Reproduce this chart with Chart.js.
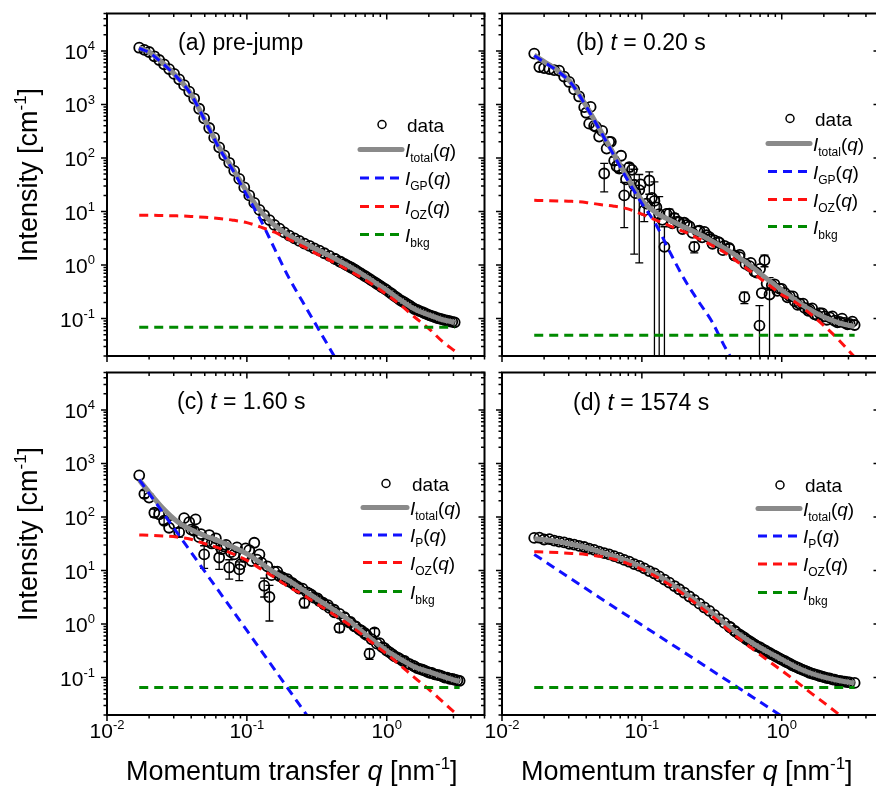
<!DOCTYPE html>
<html lang="en">
<head>
<meta charset="UTF-8" />
<title>SAXS intensity fits</title>
<script src="https://cdn.jsdelivr.net/npm/chart.js"></script>
<style>
  html, body { margin: 0; padding: 0; background: #fff; overflow: hidden; }
  body { width: 876px; height: 788px; position: relative; }
  canvas { position: absolute; left: 0; top: 0; }
</style>
</head>
<body>
<canvas id="panelA" width="900" height="788"></canvas>
<canvas id="panelB" width="900" height="788"></canvas>
<canvas id="panelC" width="900" height="788"></canvas>
<canvas id="panelD" width="900" height="788"></canvas>
<script>
// ---- measured q grid (nm^-1) ----
const qData = [0.0170, 0.0185, 0.0200, 0.0218, 0.0236, 0.0256, 0.0278, 0.0302, 0.0328, 0.0356,
  0.0387, 0.0420, 0.0456, 0.0495, 0.0538, 0.0584, 0.0634, 0.0689, 0.0748, 0.0812,
  0.0882, 0.0958, 0.104, 0.113, 0.123, 0.133, 0.145, 0.157, 0.171, 0.185,
  0.201, 0.219, 0.237, 0.258, 0.280, 0.304, 0.330, 0.358, 0.389, 0.423,
  0.459, 0.498, 0.541, 0.588, 0.638, 0.693, 0.753, 0.818, 0.888, 0.964,
  1.05, 1.14, 1.24, 1.34, 1.46, 1.58, 1.72, 1.87, 2.03, 2.20,
  2.39, 2.60, 2.82, 3.06, 3.32];
// extra high-q points (the detector grid is densest there)
const qDense = [0.43, 0.47, 0.52, 0.56, 0.61, 0.66, 0.72, 0.78, 0.85, 0.92,
  1.0, 1.09, 1.19, 1.29, 1.40, 1.52, 1.65, 1.80, 1.95, 2.11,
  2.30, 2.50, 2.71, 2.94];
// extra scattered points of the noisy frames
const qExtra = [0.040, 0.043, 0.047, 0.052, 0.056, 0.060, 0.066, 0.071, 0.077, 0.085,
  0.090, 0.098, 0.108, 0.118, 0.127, 0.14, 0.15, 0.165, 0.18, 0.195,
  0.21, 0.23, 0.25, 0.27, 0.29, 0.32, 0.35, 0.38, 0.42, 0.46,
  0.50, 0.55, 0.60, 0.66, 0.70, 0.72, 0.78, 0.85, 0.93, 1.0,
  1.1, 1.2, 1.3, 1.42, 1.55, 1.65, 1.8, 1.95, 2.1, 2.3,
  2.5, 2.7, 2.95, 3.2];
// q grid of the fitted curves
const qFit = [0.017, 0.020, 0.0251, 0.0316, 0.0398, 0.0501, 0.0631, 0.0794, 0.1, 0.126,
  0.158, 0.2, 0.251, 0.316, 0.398, 0.501, 0.631, 0.794, 1.0, 1.26,
  1.58, 2.0, 2.51, 3.06, 3.32];
const qBkgA = [0.017, 3.06];
const qBkg = [0.017, 3.32];
const qPowC = [0.017, 0.05, 0.1, 0.28];
const qPowD = [0.017, 0.05, 0.1, 0.3, 1.0];

// ---- (a) pre-jump ----
const intA = [11480, 10470, 9550, 7940, 6760, 5620, 4570, 3720, 2950, 2290,
  1740, 1290, 832, 550, 363, 240, 158, 112, 81.3, 57.5,
  40.7, 28.2, 20.0, 14.5, 10.7, 8.51, 6.92, 5.62, 4.79, 4.07,
  3.55, 3.16, 2.82, 2.51, 2.29, 2.04, 1.86, 1.66, 1.48, 1.32,
  1.17, 1.05, 0.933, 0.832, 0.724, 0.631, 0.550, 0.479, 0.417, 0.363,
  0.309, 0.263, 0.224, 0.200, 0.174, 0.151, 0.138, 0.126, 0.115, 0.107,
  0.100, 0.0933, 0.0891, 0.0851];
const denseA = [1.29, 1.14, 0.986, 0.89, 0.776, 0.684, 0.596, 0.519, 0.447, 0.389,
  0.339, 0.288, 0.243, 0.211, 0.186, 0.162, 0.145, 0.132, 0.120, 0.111,
  0.102, 0.0966, 0.0912, 0.0871];
const totalA = [11500, 9550, 5900, 3300, 1580, 513, 162, 63, 23.4, 10.0,
  5.5, 3.55, 2.63, 1.95, 1.45, 1.05, 0.74, 0.50, 0.34, 0.22,
  0.151, 0.117, 0.095, 0.085];
const gpA = [11200, 9330, 5750, 3240, 1550, 501, 155, 59, 20, 6.8,
  2.0, 0.575, 0.204, 0.0724, 0.0257, 0.0091];
const ozA = [8.5, 8.5, 8.4, 8.3, 8.1, 7.8, 7.4, 6.9, 6.2, 5.1,
  4.1, 3.0, 2.24, 1.62, 1.20, 0.87, 0.62, 0.43, 0.28, 0.178,
  0.107, 0.065, 0.037, 0.025];
const bkgA = [0.069, 0.069];

// ---- (b) t = 0.20 s ----
const intB = [8910, 5010, 4790, 4570, 4370, 4270, 3310, 2630, 1910, 1410,
  891, 437, 398, 251, 51.3, 200, 89.1, 63.1, 20.0, 67.6,
  31.6, 25.1, 10.5, 38.0, 15.8, 8.91, 2.19, 9.12, 7.59, 6.31,
  6.17, 5.25, 2.19, 4.37, 4.17, 3.31, 2.88, 2.63, 2.29, 2.00,
  1.51, 1.41, 0.251, 0.955, 0.759, 0.0741, 1.23, 0.282, 0.437, 0.363,
  0.302, 0.263, 0.209, 0.191, 0.158, 0.148, 0.120, 0.126, 0.110, 0.105,
  0.0912, 0.0871, 0.0832, 0.0794, 0.0759];
const errB = [0, 0, 0, 0, 0, 0, 0, 0, 0, 0,
  0, 0, 0, 0, 28, 0, 15, 10, 15, 12,
  30, 24, 4, 17, 20, 10, 3, 2, 1.5, 0,
  0, 0, 0.5, 0, 0, 0.4, 0, 0, 0, 0,
  0.2, 0, 0.06, 0, 0, 0.1, 0.3, 0.3, 0, 0,
  0, 0, 0, 0, 0, 0, 0, 0, 0, 0,
  0, 0, 0, 0, 0];
const extraB = [700, 900, 380, 320, 150, 200, 70, 110, 40, 60,
  22, 32, 14, 18, 12, 7.0, 9.0, 6.0, 6.5, 4.7,
  5.6, 4.0, 4.3, 3.3, 3.6, 2.5, 2.7, 1.9, 2.1, 1.5,
  1.55, 1.05, 1.1, 0.72, 0.85, 0.30, 0.45, 0.42, 0.33, 0.36,
  0.25, 0.26, 0.18, 0.19, 0.14, 0.155, 0.115, 0.125, 0.095, 0.11,
  0.085, 0.10, 0.078, 0.088];
const totalB = [8320, 6310, 4270, 2450, 955, 339, 117, 41.7, 16.2, 9.55,
  6.92, 5.13, 3.89, 2.82, 2.00, 1.35, 0.871, 0.537, 0.339, 0.219,
  0.148, 0.107, 0.0851, 0.0741, 0.0708];
const gpB = [8130, 6170, 4170, 2400, 933, 331, 112, 38.0, 14.1, 5.75,
  1.78, 0.56, 0.219, 0.089, 0.0275, 0.01];
const ozB = [16.2, 16.0, 15.8, 15.5, 14.8, 13.5, 12.6, 11.2, 8.9, 6.9,
  5.4, 4.2, 3.16, 2.34, 1.66, 1.07, 0.69, 0.44, 0.28, 0.20,
  0.126, 0.074, 0.042, 0.024, 0.019];
const bkgB = [0.049, 0.049];

// ---- (c) t = 1.60 s ----
const intC = [600, 270, 230, 120, 112, 85, 63, 74, 52, 95,
  80, 55, 42, 20, 46, 33, 17.5, 28, 11.4, 20,
  10.5, 17.8, 24, 33, 20, 5.2, 3.2, 9.5, 7.9, 6.9,
  6.2, 5.4, 4.6, 2.5, 3.7, 3.1, 2.7, 2.3, 2.0, 1.66,
  0.85, 1.35, 1.07, 0.91, 0.79, 0.68, 0.28, 0.70, 0.44, 0.355,
  0.295, 0.25, 0.224, 0.204, 0.178, 0.162, 0.145, 0.135, 0.123, 0.115,
  0.11, 0.10, 0.095, 0.091, 0.087];
const errC = [0, 40, 0, 20, 0, 12, 0, 0, 10, 0,
  0, 8, 0, 9, 0, 0, 7, 0, 4.5, 0,
  4, 0, 0, 0, 0, 2, 2.06, 0, 0, 0,
  0, 0, 0, 0.5, 0, 0, 0, 0, 0, 0,
  0.15, 0, 0, 0, 0, 0, 0.06, 0.12, 0, 0,
  0, 0, 0, 0, 0, 0, 0, 0, 0, 0,
  0, 0, 0, 0, 0];
const extraC = [58, 90, 48, 35, 32, 40, 25, 30, 22, 27,
  13, 26, 15, 16, 14, 12, 8.2, 9.5, 7.4, 6.9,
  5.9, 5.0, 4.6, 3.9, 3.5, 3.0, 2.5, 2.25, 1.85, 1.55,
  1.3, 1.1, 0.9, 0.75, 0.66, 0.62, 0.52, 0.43, 0.37, 0.32,
  0.27, 0.235, 0.205, 0.18, 0.165, 0.15, 0.14, 0.128, 0.122, 0.112,
  0.105, 0.10, 0.094, 0.089];
const totalC = [490, 290, 145, 83, 58, 44.7, 35.5, 27.5, 20.4, 13.8,
  9.12, 6.46, 4.37, 2.95, 2.00, 1.35, 0.813, 0.501, 0.316, 0.219,
  0.158, 0.129, 0.105, 0.0891, 0.0851];
const powC = [500, 9.6, 0.76, 0.017];
const ozC = [46.2, 45.7, 44.2, 42.2, 38.5, 31.6, 26.3, 20.4, 15.5, 10.7,
  7.41, 4.90, 3.55, 2.40, 1.62, 1.10, 0.708, 0.437, 0.275, 0.166,
  0.100, 0.0603, 0.0355, 0.0224, 0.0191];
const bkgC = [0.065, 0.065];

// ---- (d) t = 1574 s ----
const intD = [40.7, 41.0, 38.0, 38.5, 36.3, 34.7, 33.5, 31.6, 30.5, 28.8,
  27.5, 25.7, 24.3, 22.6, 21.1, 20.0, 18.6, 17.2, 15.8, 14.6,
  13.2, 12.2, 11.0, 9.77, 8.81, 7.76, 6.76, 5.96, 5.13, 4.47,
  3.85, 3.27, 2.82, 2.40, 2.04, 1.76, 1.48, 1.24, 1.05, 0.891,
  0.750, 0.638, 0.556, 0.479, 0.417, 0.372, 0.327, 0.288, 0.257, 0.229,
  0.204, 0.182, 0.162, 0.148, 0.135, 0.123, 0.115, 0.107, 0.101, 0.0966,
  0.0912, 0.0871, 0.0841, 0.0813, 0.0794];
const denseD = [0.861, 0.716, 0.596, 0.519, 0.447, 0.389, 0.347, 0.309, 0.272, 0.243,
  0.216, 0.193, 0.170, 0.155, 0.141, 0.129, 0.119, 0.111, 0.104, 0.0977,
  0.0923, 0.0881, 0.0851, 0.0822];
const totalD = [39.4, 37.6, 34.7, 30.9, 26.9, 22.4, 18.6, 15.0, 11.5, 8.5,
  5.9, 3.9, 2.51, 1.62, 1.0, 0.631, 0.427, 0.302, 0.219, 0.158,
  0.123, 0.102, 0.0891, 0.0813, 0.0794];
const powD = [20, 3.1, 0.96, 0.149, 0.019];
const ozD = [22.4, 22.1, 21.6, 20.9, 20.0, 18.4, 16.2, 13.5, 10.5, 7.7,
  5.4, 3.55, 2.25, 1.42, 0.85, 0.52, 0.33, 0.21, 0.135, 0.086,
  0.054, 0.034, 0.0215, 0.0146, 0.0125];
const bkgD = [0.065, 0.065];

// ---- styles ----
const FONT = '"Liberation Sans", Arial, sans-serif';
const GRAY = "#8a8a8a";
const BLUE = "#1010ff";
const RED = "#ff1010";
const GREEN = "#008a00";
const DASH = [9, 6];

const pts = (xs, ys) => ys.map((y, i) => ({ x: xs[i], y: y }));

function setFont(ctx, kind, size) {
  const small = kind === "sub" || kind === "sup";
  ctx.font = (kind === "i" ? "italic " : "") + (small ? Math.round(size * 0.64) : size) + "px " + FONT;
}

function drawRuns(ctx, runs, x, y, size, align) {
  let w = 0;
  runs.forEach(([t, k]) => { setFont(ctx, k, size); w += ctx.measureText(t).width; });
  let cx = align === "right" ? x - w : align === "center" ? x - w / 2 : x;
  ctx.textAlign = "left";
  ctx.textBaseline = "alphabetic";
  ctx.fillStyle = "#000";
  runs.forEach(([t, k]) => {
    setFont(ctx, k, size);
    const dy = k === "sub" ? size * 0.28 : k === "sup" ? -size * 0.42 : 0;
    ctx.fillText(t, cx, y + dy);
    cx += ctx.measureText(t).width;
  });
}

function logTicks(min, max) {
  const out = [];
  for (let e = Math.floor(Math.log10(min)); e <= Math.ceil(Math.log10(max)); e++) {
    for (let k = 1; k <= 9; k++) {
      const v = k * Math.pow(10, e);
      if (v >= min * 0.999 && v <= max * 1.001) out.push({ v: v, e: e, major: k === 1 });
    }
  }
  return out;
}

function decorPlugin(cfg) {
  return {
    id: "decor",
    beforeDatasetsDraw(chart) {
      if (!cfg.err) return;
      const { ctx, chartArea: a, scales: { x, y } } = chart;
      ctx.save();
      ctx.beginPath();
      ctx.rect(a.left, a.top, a.width, a.height);
      ctx.clip();
      ctx.strokeStyle = "#000";
      ctx.lineWidth = 1.3;
      cfg.err.forEach((e, i) => {
        if (!e) return;
        const px = x.getPixelForValue(cfg.q[i]);
        const v = cfg.vals[i];
        const top = y.getPixelForValue(v + e);
        const lo = v - e;
        const bot = lo > 0 ? y.getPixelForValue(lo) : a.bottom + 5;
        ctx.beginPath();
        ctx.moveTo(px, top); ctx.lineTo(px, bot);
        ctx.moveTo(px - 4, top); ctx.lineTo(px + 4, top);
        if (lo > 0) { ctx.moveTo(px - 4, bot); ctx.lineTo(px + 4, bot); }
        ctx.stroke();
      });
      ctx.restore();
    },
    afterDraw(chart) {
      const { ctx, chartArea: a, scales: { x, y } } = chart;
      ctx.save();
      // frame
      ctx.strokeStyle = "#000";
      ctx.lineWidth = 2;
      ctx.strokeRect(a.left, a.top, a.right - a.left, a.bottom - a.top);
      // ticks: out on bottom/left, in on top/right
      ctx.lineWidth = 1.5;
      ctx.beginPath();
      logTicks(x.min, x.max).forEach(t => {
        const px = x.getPixelForValue(t.v);
        const len = t.major ? 6 : 3.5;
        ctx.moveTo(px, a.bottom); ctx.lineTo(px, a.bottom + len);
        ctx.moveTo(px, a.top); ctx.lineTo(px, a.top + len);
      });
      logTicks(y.min, y.max).forEach(t => {
        const py = y.getPixelForValue(t.v);
        const len = t.major ? 6 : 3.5;
        ctx.moveTo(a.left, py); ctx.lineTo(a.left - len, py);
        ctx.moveTo(a.right, py); ctx.lineTo(a.right - len, py);
      });
      ctx.stroke();
      // tick labels
      if (cfg.yLabels) {
        logTicks(y.min, y.max).filter(t => t.major).forEach(t => {
          drawRuns(ctx, [["10", "n"], [String(t.e), "sup"]], a.left - 12, y.getPixelForValue(t.v) + 8, 21, "right");
        });
      }
      if (cfg.xLabels) {
        logTicks(x.min, x.max).filter(t => t.major).forEach(t => {
          drawRuns(ctx, [["10", "n"], [String(t.e), "sup"]], x.getPixelForValue(t.v), a.bottom + 22.5, 21, "center");
        });
      }
      // axis titles
      if (cfg.yTitle) {
        ctx.save();
        ctx.translate(37, a.top + 161.5);
        ctx.rotate(-Math.PI / 2);
        drawRuns(ctx, [["Intensity [cm", "n"], ["-1", "sup"], ["]", "n"]], 0, 0, 27, "center");
        ctx.restore();
      }
      if (cfg.xTitle) {
        drawRuns(ctx, [["Momentum transfer ", "n"], ["q", "i"], [" [nm", "n"], ["-1", "sup"], ["]", "n"]],
          (a.left + a.right) / 2 - 4, a.bottom + 65, 27, "center");
      }
      // panel label
      drawRuns(ctx, cfg.label, a.left + cfg.labelPos[0], a.top + cfg.labelPos[1], 23, "left");
      // legend
      const L = cfg.legend;
      const rows = [
        { line: null, text: [["data", "n"]] },
        { line: [GRAY, 5, []], text: [["I", "i"], ["total", "sub"], ["(", "n"], ["q", "i"], [")", "n"]] },
        { line: [BLUE, 3, DASH], text: [["I", "i"], [cfg.comp, "sub"], ["(", "n"], ["q", "i"], [")", "n"]] },
        { line: [RED, 3, DASH], text: [["I", "i"], ["OZ", "sub"], ["(", "n"], ["q", "i"], [")", "n"]] },
        { line: [GREEN, 3, DASH], text: [["I", "i"], ["bkg", "sub"]] },
      ];
      rows.forEach((r, i) => {
        const ry = a.top + L.ys[i];
        const x0 = a.left + L.x0, x1 = a.left + L.x1;
        if (r.line) {
          ctx.save();
          ctx.strokeStyle = r.line[0];
          ctx.lineWidth = r.line[1];
          ctx.lineCap = r.line[2].length ? "butt" : "round";
          ctx.setLineDash(r.line[2]);
          ctx.beginPath();
          ctx.moveTo(x0, ry); ctx.lineTo(x1, ry);
          ctx.stroke();
          ctx.restore();
        } else {
          ctx.beginPath();
          ctx.lineWidth = 1.5;
          ctx.strokeStyle = "#000";
          ctx.arc((x0 + x1) / 2 + 1, ry, 4, 0, Math.PI * 2);
          ctx.stroke();
        }
        drawRuns(ctx, r.text, a.left + L.tx + (r.line ? 0 : 2), ry + 7, 19, "left");
      });
      ctx.restore();
    },
  };
}

function lineSet(data, color, width, dash, order) {
  return {
    data: data, showLine: true, pointRadius: 0, borderColor: color, borderWidth: width,
    borderDash: dash, fill: false, cubicInterpolationMode: "monotone", order: order,
  };
}

function makePanel(id, box, series, cfg) {
  return new Chart(document.getElementById(id), {
    type: "scatter",
    data: {
      datasets: [
        {
          data: series.data, pointRadius: 5, pointBorderWidth: 1.8, pointBorderColor: "#000",
          pointBackgroundColor: "rgba(0,0,0,0)", showLine: false, order: 5,
        },
        lineSet(series.total, GRAY, 5, [], 4),
        lineSet(series.comp, BLUE, 3, DASH, 3),
        lineSet(series.oz, RED, 3, DASH, 2),
        lineSet(series.bkg, GREEN, 3, DASH, 1),
      ],
    },
    options: {
      responsive: false,
      animation: false,
      devicePixelRatio: 1,
      layout: { padding: { left: box[0], top: box[1], right: 900 - box[2], bottom: 788 - box[3] } },
      scales: {
        x: { type: "logarithmic", min: 0.01, max: 5, display: false },
        y: { type: "logarithmic", min: 0.02, max: 50000, display: false },
      },
      plugins: { legend: { display: false }, tooltip: { enabled: false } },
    },
    plugins: [decorPlugin(cfg)],
  });
}

// (a)
makePanel("panelA", [107, 13.5, 484.5, 356], {
  data: pts(qData, intA).concat(pts(qDense, denseA)), total: pts(qFit, totalA), comp: pts(qFit, gpA),
  oz: pts(qFit, ozA), bkg: pts(qBkgA, bkgA),
}, {
  yLabels: true, yTitle: true, comp: "GP",
  label: [["(a) pre-jump", "n"]], labelPos: [71, 36],
  legend: { x0: 253, x1: 295, tx: 298, ys: [111, 136, 164.5, 193, 221] },
});

// (b)
makePanel("panelB", [502, 13.5, 879.5, 356], {
  data: pts(qData, intB).concat(pts(qExtra, extraB)), total: pts(qFit, totalB), comp: pts(qFit, gpB),
  oz: pts(qFit, ozB), bkg: pts(qBkg, bkgB),
}, {
  comp: "GP", err: errB, q: qData, vals: intB,
  label: [["(b) ", "n"], ["t", "i"], [" = 0.20 s", "n"]], labelPos: [74, 36],
  legend: { x0: 266, x1: 308, tx: 311, ys: [105, 130, 158, 186, 213] },
});

// (c)
makePanel("panelC", [107, 372.5, 484.5, 715], {
  data: pts(qData, intC).concat(pts(qExtra, extraC)), total: pts(qFit, totalC), comp: pts(qPowC, powC),
  oz: pts(qFit, ozC), bkg: pts(qBkg, bkgC),
}, {
  yLabels: true, xLabels: true, yTitle: true, xTitle: true, comp: "P", err: errC, q: qData, vals: intC,
  label: [["(c) ", "n"], ["t", "i"], [" = 1.60 s", "n"]], labelPos: [70, 36],
  legend: { x0: 256, x1: 300, tx: 303, ys: [111, 135, 162.5, 190, 219] },
});

// (d)
makePanel("panelD", [502, 372.5, 879.5, 715], {
  data: pts(qData, intD).concat(pts(qDense, denseD)), total: pts(qFit, totalD), comp: pts(qPowD, powD),
  oz: pts(qFit, ozD), bkg: pts(qBkg, bkgD),
}, {
  xLabels: true, xTitle: true, comp: "P",
  label: [["(d) ", "n"], ["t", "i"], [" = 1574 s", "n"]], labelPos: [71, 37],
  legend: { x0: 256, x1: 298, tx: 301, ys: [112.5, 136, 163.5, 191.5, 220] },
});
</script>
</body>
</html>
